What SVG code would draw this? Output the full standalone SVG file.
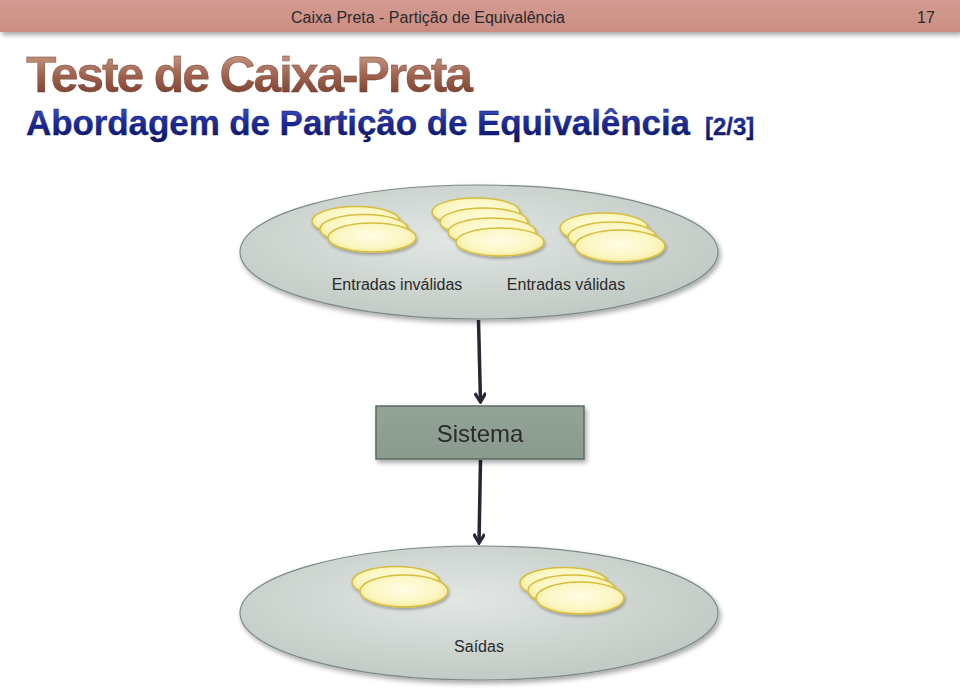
<svg xmlns="http://www.w3.org/2000/svg" width="960" height="689" viewBox="0 0 960 689">
<defs>
<linearGradient id="hdr" x1="0" y1="0" x2="0" y2="1"><stop offset="0" stop-color="#d39b91"/><stop offset="1" stop-color="#cb8d83"/></linearGradient>
<linearGradient id="brown" x1="0" y1="0" x2="0" y2="1"><stop offset="0" stop-color="#d0aa94"/><stop offset="0.5" stop-color="#a0634f"/><stop offset="1" stop-color="#6e3324"/></linearGradient>
<linearGradient id="navy" x1="0" y1="0" x2="0" y2="1"><stop offset="0" stop-color="#4a5ac8"/><stop offset="0.5" stop-color="#1c2a9a"/><stop offset="1" stop-color="#0c1460"/></linearGradient>
<radialGradient id="big" cx="0.45" cy="0.4" r="0.7"><stop offset="0" stop-color="#e2e7e4"/><stop offset="1" stop-color="#bcc5c0"/></radialGradient>
<radialGradient id="small" cx="0.5" cy="0.45" r="0.6"><stop offset="0" stop-color="#fffde6"/><stop offset="0.7" stop-color="#fbf6bf"/><stop offset="1" stop-color="#f3e38a"/></radialGradient>
<linearGradient id="box" x1="0" y1="0" x2="0" y2="1"><stop offset="0" stop-color="#94a398"/><stop offset="1" stop-color="#8a9a8f"/></linearGradient>
<filter id="sh" x="-10%" y="-20%" width="130%" height="150%"><feGaussianBlur in="SourceAlpha" stdDeviation="2.5"/><feOffset dx="2" dy="3"/><feComponentTransfer><feFuncA type="linear" slope="0.35"/></feComponentTransfer><feMerge><feMergeNode/><feMergeNode in="SourceGraphic"/></feMerge></filter>
<filter id="sh2" x="-10%" y="-30%" width="130%" height="170%"><feGaussianBlur in="SourceAlpha" stdDeviation="1.5"/><feOffset dx="1" dy="2"/><feComponentTransfer><feFuncA type="linear" slope="0.3"/></feComponentTransfer><feMerge><feMergeNode/><feMergeNode in="SourceGraphic"/></feMerge></filter>
<marker id="arr" markerWidth="12" markerHeight="12" viewBox="0 0 12 12" refX="10" refY="6" orient="auto" markerUnits="userSpaceOnUse"><path d="M1,0.5 L10,6 L1,11.5" fill="none" stroke="#262634" stroke-width="3.2" stroke-linejoin="miter"/></marker>
<style>
.lbl{font-family:"Liberation Sans",Arial,sans-serif;fill:#2a2a2a;text-anchor:middle}
.sm{fill:url(#small);stroke:#d6bd3c;stroke-width:1.5}
.big{fill:url(#big);stroke:#7d8a84;stroke-width:1.2}
.conn{stroke:#262634;stroke-width:3.5;fill:none}
</style>
</defs>
<rect width="960" height="689" fill="#ffffff"/>
<g id="header" filter="url(#sh)">
<rect x="0" y="0" width="960" height="32" fill="url(#hdr)"/>
</g>
<text x="428" y="23" class="lbl" font-size="16">Caixa Preta - Partição de Equivalência</text>
<text x="926" y="23" class="lbl" font-size="16">17</text>
<text x="26" y="92" font-family="'Liberation Sans',Arial,sans-serif" font-weight="bold" font-size="50" fill="url(#brown)" stroke="#6a3526" stroke-width="0.3" textLength="447">Teste de Caixa-Preta</text>
<text x="26" y="135" font-family="'Liberation Sans',Arial,sans-serif" font-weight="bold" font-size="35" fill="url(#navy)" stroke="#0c1450" stroke-width="0.3"><tspan textLength="664">Abordagem de Partição de Equivalência</tspan><tspan font-size="24" dx="15">[2/3]</tspan></text>

<g id="entradas" filter="url(#sh)">
<ellipse cx="479" cy="252" rx="239" ry="67" class="big"/>
</g>
<g id="grupo-invalidas" filter="url(#sh2)">
<ellipse cx="356" cy="221" rx="44" ry="14.5" class="sm"/>
<ellipse cx="364" cy="229" rx="44" ry="14.5" class="sm"/>
<ellipse cx="372" cy="237.5" rx="44" ry="14.5" class="sm"/>
</g>
<g id="grupo-validas-1" filter="url(#sh2)">
<ellipse cx="476" cy="212" rx="44" ry="14" class="sm"/>
<ellipse cx="484" cy="222" rx="44" ry="14" class="sm"/>
<ellipse cx="492" cy="232" rx="44" ry="14" class="sm"/>
<ellipse cx="500" cy="242" rx="44" ry="14" class="sm"/>
</g>
<g id="grupo-validas-2" filter="url(#sh2)">
<ellipse cx="604" cy="228" rx="44" ry="15" class="sm"/>
<ellipse cx="612" cy="237" rx="44" ry="15" class="sm"/>
<ellipse cx="620" cy="246" rx="45" ry="16" class="sm"/>
</g>
<text x="397" y="290" class="lbl" font-size="16">Entradas inválidas</text>
<text x="566" y="290" class="lbl" font-size="16">Entradas válidas</text>

<g id="connectors">
<path d="M478.5,320 L480.5,402" class="conn" marker-end="url(#arr)"/>
<path d="M480.5,460 L479,543" class="conn" marker-end="url(#arr)"/>
</g>

<g id="sistema" filter="url(#sh)">
<rect x="376" y="406" width="208" height="53" fill="url(#box)" stroke="#5d6b62" stroke-width="1.5"/>
<text x="480" y="442" class="lbl" font-size="24" fill="#222">Sistema</text>
</g>

<g id="saidas" filter="url(#sh)">
<ellipse cx="479" cy="613" rx="239" ry="67" class="big"/>
</g>
<g id="grupo-saida-1" filter="url(#sh2)">
<ellipse cx="396" cy="582" rx="44" ry="15.5" class="sm"/>
<ellipse cx="404" cy="591" rx="44" ry="16" class="sm"/>
</g>
<g id="grupo-saida-2" filter="url(#sh2)">
<ellipse cx="564" cy="583" rx="44" ry="15.5" class="sm"/>
<ellipse cx="572" cy="590.5" rx="44" ry="15.5" class="sm"/>
<ellipse cx="580" cy="598" rx="44" ry="16" class="sm"/>
</g>
<text x="479" y="652" class="lbl" font-size="16">Saídas</text>
</svg>
